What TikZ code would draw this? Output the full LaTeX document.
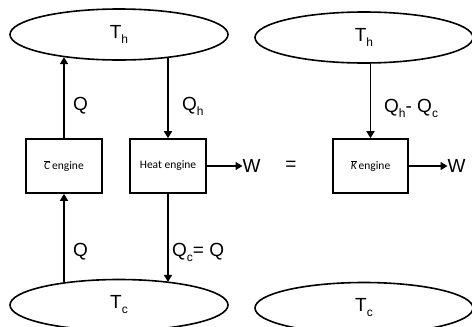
\documentclass[tikz,border=0pt]{standalone}
\usepackage{fontspec}
\setmainfont{Liberation Sans}
\newfontfamily\boxfont{Carlito}
\usetikzlibrary{arrows.meta,shapes.geometric}
\newcommand{\lowsub}[1]{\raisebox{-5pt}{\fontsize{12}{12}\selectfont #1}}
\tikzset{
  reservoir/.style={ellipse,draw,line width=1.6pt,minimum width=218pt,minimum height=51pt,inner sep=0pt,font=\fontsize{19}{22}\selectfont},
  enginebox/.style={draw,line width=1.6pt,minimum width=76pt,minimum height=54pt,inner sep=0pt,font=\boxfont\fontsize{11.5}{13}\selectfont},
  flow/.style={line width=1.6pt,-{Triangle[width=8pt,length=7pt]}},
  lbl/.style={inner sep=0pt,font=\fontsize{19}{22}\selectfont}
}
\begin{document}
\begin{tikzpicture}[x=1pt,y=-1pt]
\useasboundingbox (0,0) rectangle (472,327);
% reservoirs
\node[reservoir] (lth) at (119,34.5) {T\lowsub{h}};
\node[reservoir] (ltc) at (119,305) {T\lowsub{c}};
\node[reservoir] (rth) at (364,37.5) {T\lowsub{h}};
\node[reservoir] (rtc) at (364,308) {T\lowsub{c}};
% engines
\node[enginebox] (cbox) at (64,166) {$\overline{\hbox{\boxfont\itshape C}}$\,engine};
\node[enginebox] (heat) at (168,166) {Heat engine};
\node[enginebox,minimum width=75pt] (kbox) at (370.5,166) {$\overline{\hbox{\boxfont\itshape K}}$\,engine};
% flows
\draw[flow] (cbox.north) -- (cbox.north |- lth.202);
\draw[flow] (heat.north |- lth.-25) -- (heat.north);
\draw[flow] (cbox.south |- ltc.158.6) -- (cbox.south);
\draw[flow] (heat.south) -- (heat.south |- ltc.24.5);
\draw[flow] (kbox.north |- rth.-76) -- (kbox.north);
% work outputs
\node[lbl,anchor=west] (w1) at (242.5,166) {W};
\node[lbl,anchor=west] (w2) at (447.5,166) {W};
\draw[flow] (heat.east) -- (w1.west);
\draw[flow] (kbox.east) -- (w2.west);
\node[lbl] (eq) at (291,166) {=};
% labels
\node[lbl] (q1) at (80.5,106) {Q};
\node[lbl,anchor=west] (qh) at (182,106) {Q\lowsub{h}};
\node[lbl] (q2) at (80.5,252) {Q};
\node[lbl,anchor=west] (qc) at (172,252) {Q\lowsub{c}= Q};
\node[lbl,anchor=west] (qhc) at (384,108) {Q\lowsub{h}- Q\lowsub{c}};
\end{tikzpicture}
\end{document}
